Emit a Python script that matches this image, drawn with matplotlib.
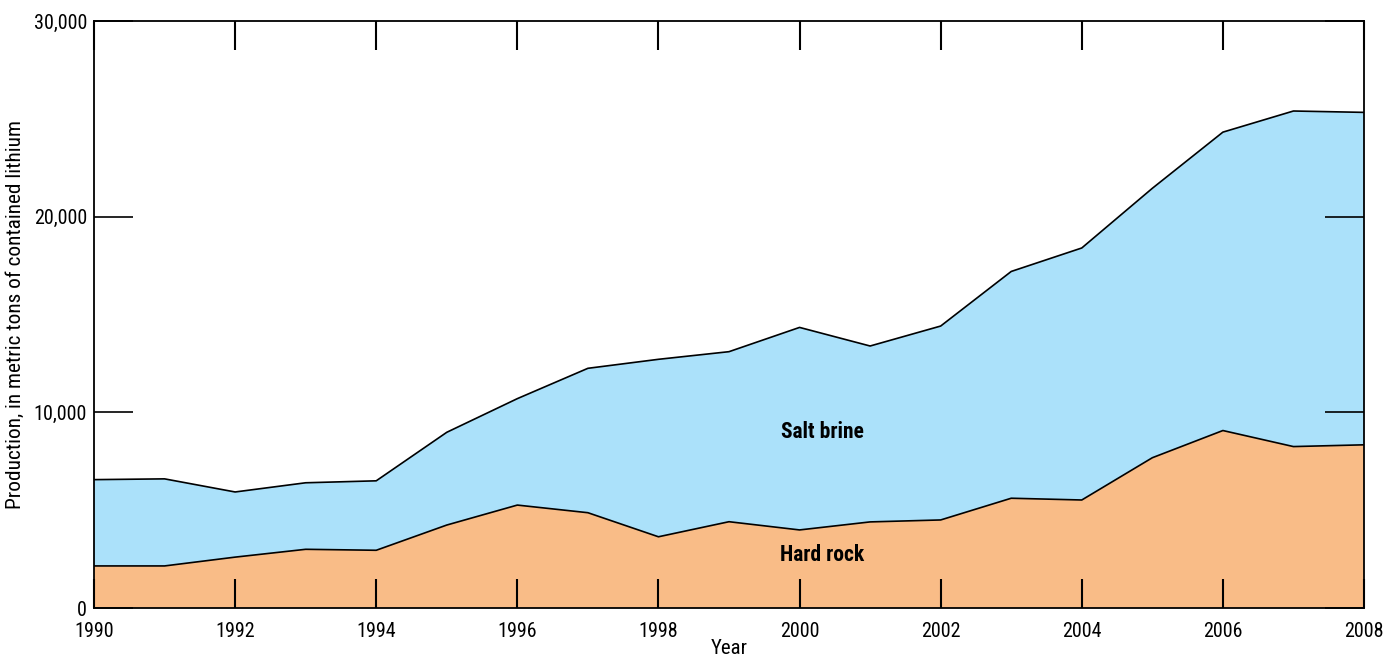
"""Lithium production by source, 1990-2008"""
import matplotlib.pyplot as plt
from matplotlib import font_manager
import numpy as np

# condensed face like the original if there is one
have = {f.name for f in font_manager.fontManager.ttflist}
for fam in ['Liberation Sans Narrow', 'DejaVu Sans Condensed', 'Roboto Condensed', 'Roboto']:
    if fam in have:
        break
plt.rcParams['font.family'] = [fam, 'DejaVu Sans']

years = list(range(1990, 2009))
# production, metric tons of contained lithium
hard_rock = [2150, 2150, 2600, 3000, 2950, 4240, 5260, 4870, 3640, 4410,
             3990, 4400, 4500, 5610, 5520, 7680, 9070, 8250, 8340]
total = [6560, 6600, 5930, 6400, 6500, 8980, 10700, 12250, 12710, 13100,
         14340, 13390, 14410, 17200, 18400, 21450, 24320, 25400, 25330]
salt_brine = [t - h for t, h in zip(total, hard_rock)]

x_ticks = list(range(1990, 2009, 2))
y_ticks = [0, 10000, 20000, 30000]

hard_color = '#F9BC87'
brine_color = '#ABE1FA'

fig = plt.figure(figsize=(13.84, 6.62), dpi=100)
ax = fig.add_axes([94/1384, 1 - 608/662, 1270/1384, 587/662])

hr = np.array(hard_rock)
top = hr + np.array(salt_brine)
ax.fill_between(years, 0, hr, facecolor=hard_color, edgecolor='none', zorder=1)
ax.fill_between(years, hr, top, facecolor=brine_color, edgecolor='none', zorder=1)
ax.plot(years, hr, color='black', lw=1.2, zorder=2)
ax.plot(years, top, color='black', lw=1.2, zorder=2)

ax.text(2000.32, 8990, 'Salt brine', ha='center', va='center',
        fontsize=15.5, weight='bold')
ax.text(2000.32, 2710, 'Hard rock', ha='center', va='center',
        fontsize=15.5, weight='bold')

ax.set_xlim(1990, 2008)
ax.set_ylim(0, 30000)
ax.set_xticks(x_ticks)
ax.set_yticks(y_ticks)
ax.set_yticklabels([f'{v:,}' for v in y_ticks])
ax.tick_params(axis='x', direction='in', length=21, width=1.5,
               top=True, labelsize=14.5, pad=10)
ax.tick_params(axis='y', direction='in', length=28, width=1.2,
               right=True, labelsize=14.5, pad=5)
for sp in ax.spines.values():
    sp.set_linewidth(1.3)
    sp.set_zorder(3)

ax.set_xlabel('Year', fontsize=15, labelpad=-1)
ax.set_ylabel('Production, in metric tons of contained lithium',
              fontsize=15.3, labelpad=6)

fig.savefig('out.png', dpi=100)
plt.close(fig)
